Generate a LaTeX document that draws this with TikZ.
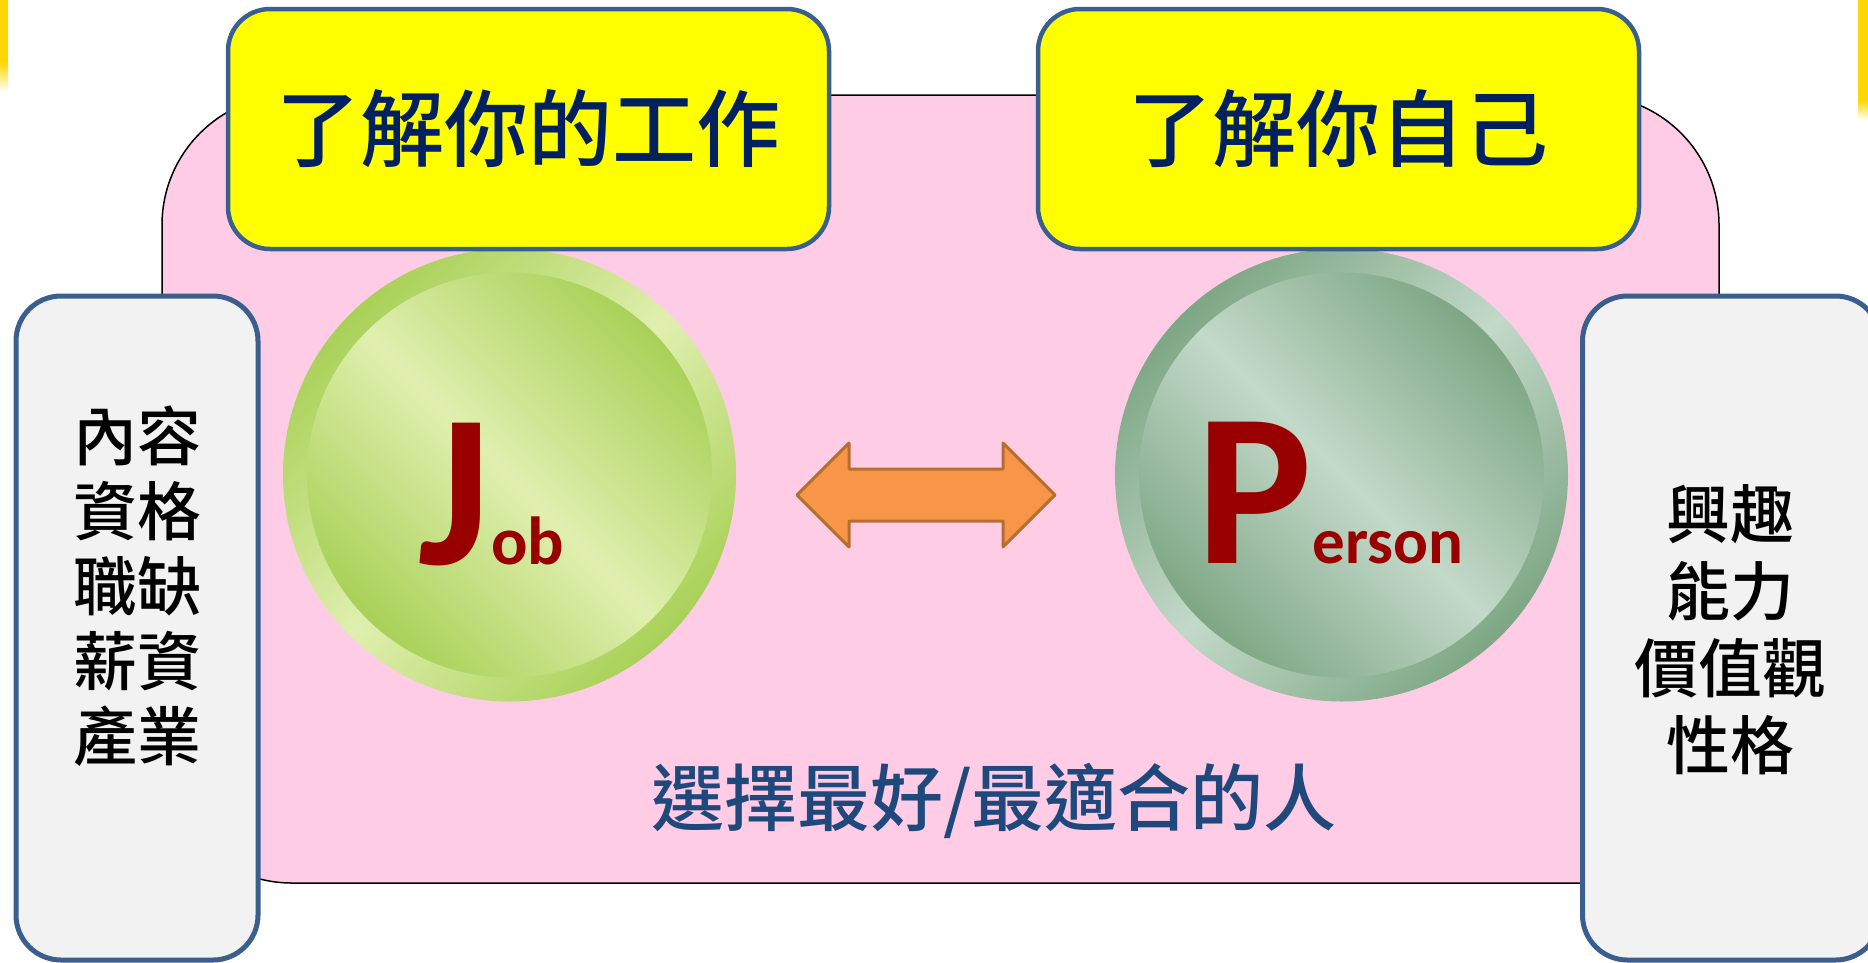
\documentclass[tikz,border=0pt]{standalone}
\usepackage{fontspec}
\newfontfamily\cjk{Noto Sans CJK TC}[UprightFont=* Medium, BoldFont=* Bold]
\newfontfamily\calib{Carlito}
\definecolor{pinkbg}{HTML}{FFCCE6}
\definecolor{boxline}{HTML}{3A5F8E}
\definecolor{navy}{HTML}{002060}
\definecolor{textblue}{HTML}{1F497D}
\definecolor{jdark}{HTML}{A9D158}
\definecolor{jlight}{HTML}{E0EFAF}
\definecolor{pdark}{HTML}{7EA785}
\definecolor{plight}{HTML}{C3D9C9}
\definecolor{arrowfill}{HTML}{F79646}
\definecolor{arrowline}{HTML}{B66D31}
\definecolor{redtext}{HTML}{990000}
\definecolor{gold}{HTML}{FFD700}
\definecolor{grayfill}{HTML}{F2F2F2}
\definecolor{yellowfill}{HTML}{FFFF00}
\begin{document}
\begin{tikzpicture}[x=1pt,y=1pt,
  titlebox/.style={draw=boxline, line width=4.5pt, fill=yellowfill, rounded corners=42pt,
    minimum width=601pt, minimum height=240pt, inner sep=0pt, text=navy,
    font=\fontsize{84}{90}\cjk},
  sidebox/.style={draw=boxline, line width=5pt, fill=grayfill, rounded corners=45pt,
    inner sep=0pt},
  sidetext/.style={align=center, inner sep=0pt, text=black},
  jshade/.style={top color=jdark, bottom color=jdark, middle color=jlight},
  pshade/.style={top color=pdark, bottom color=pdark, middle color=plight},
  outerring/.style={circle, inner sep=0pt, minimum size=453pt},
  innerdisc/.style={circle, inner sep=0pt, minimum size=405pt},
  lettertext/.style={anchor=base, inner sep=0pt, text=redtext, font=\calib\bfseries}
]
\clip (0,0) rectangle (1868,-962);
\fill[white] (0,0) rectangle (1868,-962);
% corner decorations
\fill[gold] (0,0) rectangle (8,-62);
\shade[top color=gold, bottom color=white] (0,-62) rectangle (8,-92);
\fill[gold] (1858,0) rectangle (1868,-100);
\shade[top color=gold, bottom color=white] (1858,-100) rectangle (1868,-120);
% pink background
\node[draw=black, line width=1.5pt, fill=pinkbg, rounded corners=130pt,
  minimum width=1557pt, minimum height=788pt, inner sep=0pt] (bg) at (940.5,-489) {};
% circles
\node[outerring, jshade, shading angle=45] (jouter) at (509.5,-475) {};
\node[innerdisc, jshade, shading angle=-45] (jinner) at (509.5,-475) {};
\node[outerring, pshade, shading angle=45] (pouter) at (1341.5,-475) {};
\node[innerdisc, pshade, shading angle=-45] (pinner) at (1341.5,-475) {};
\node[lettertext] (jtext) at (491.5,-564) {{\fontsize{218}{218}\selectfont J}{\fontsize{68}{68}\selectfont ob}};
\node[lettertext] (ptext) at (1330,-563) {{\fontsize{218}{218}\selectfont P}{\fontsize{65}{65}\selectfont erson}};
% double arrow
\draw[draw=arrowline, fill=arrowfill, line width=3pt, line join=round]
  (797,-495) -- (849,-443) -- (849,-469) -- (1003,-469) -- (1003,-443) -- (1055,-495)
  -- (1003,-547) -- (1003,-521) -- (849,-521) -- (849,-547) -- cycle;
% title boxes
\node[titlebox] (t1) at (528.5,-129) {了解你的工作};
\node[titlebox] (t2) at (1338.5,-129) {了解你自己};
% side boxes
\node[sidebox, minimum width=242pt, minimum height=664pt] (lbox) at (137,-628) {};
\node[sidebox, minimum width=298pt, minimum height=664pt] (rbox) at (1731.5,-628) {};
\node[sidetext, font=\fontsize{64}{75}\cjk] (ltext) at (137,-586) {內容\\資格\\職缺\\薪資\\產業};
\node[sidetext, font=\fontsize{64}{77}\cjk] (rtext) at (1730,-630) {興趣\\能力\\價值觀\\性格};
% bottom caption
\node[inner sep=0pt, text=textblue, font=\fontsize{73}{80}\cjk] (cap) at (994,-801) {選擇最好/最適合的人};
\end{tikzpicture}
\end{document}
